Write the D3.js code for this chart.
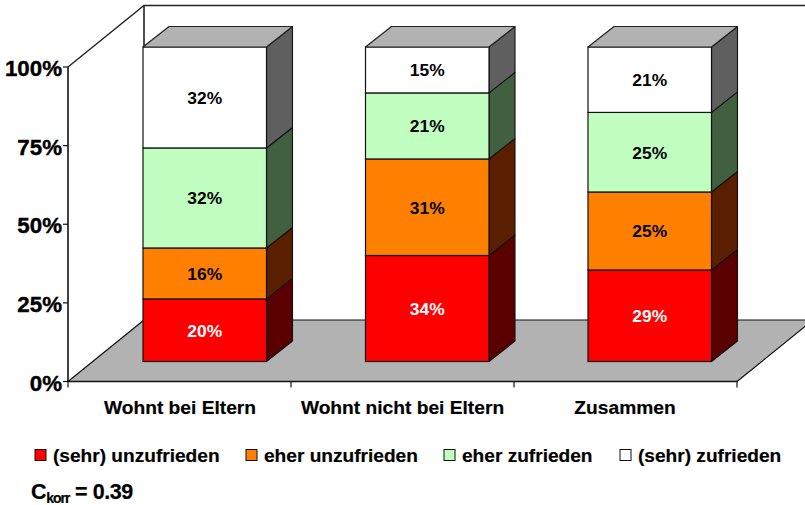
<!DOCTYPE html>
<html><head><meta charset="utf-8">
<script src="https://cdn.jsdelivr.net/npm/d3@7"></script>
<style>html,body{margin:0;background:#fff}svg{display:block}text{font-family:"Liberation Sans",Arial,sans-serif;font-weight:bold;fill:#000}</style>
</head><body><svg id="c" width="805" height="505"></svg>
<script>
const categories=["Wohnt bei Eltern","Wohnt nicht bei Eltern","Zusammen"];
const seriesNames=["(sehr) unzufrieden","eher unzufrieden","eher zufrieden","(sehr) zufrieden"];
const unzufrieden=[19.9,33.7,29.1];
const eherUnzufrieden=[16.2,30.7,24.8];
const eherZufrieden=[31.8,21,25.3];
const zufrieden=[32.1,14.6,20.8];
const yTicks=[0,25,50,75,100];
const seriesValues=[unzufrieden,eherUnzufrieden,eherZufrieden,zufrieden];
const frontColors=["#ff0000","#ff8000","#c0ffc0","#ffffff"];
const sideColors=["#5a0000","#5a1e00","#406040","#5f5f5f"];
const labelColors=["#fff","#000","#000","#000"];
const svg=d3.select("#c");
const y=d3.scaleLinear().domain([0,100]).range([381.5,67]);
const x=d3.scaleBand().domain(categories).range([68,737]);
const wall={dx:76,dy:-61.5}, barD={dx:26,dy:-20.5}, barFront={dx:75,dy:-20}, barW=123.5;
const poly=(pts,fill,stroke,sw)=>svg.append("path").attr("d",d3.line()(pts)+"Z").attr("fill",fill).attr("stroke",stroke||"#000").attr("stroke-width",sw||1.2).attr("stroke-linejoin","round");
const lineP=(pts,sw,c)=>svg.append("path").attr("d",d3.line()(pts)).attr("fill","none").attr("stroke",c||"#222").attr("stroke-width",sw||1.3);
const [L,R]=x.range(), B=y(0), T=y(100);
// floor and walls
poly([[L,B],[R,B],[R+wall.dx,B+wall.dy],[L+wall.dx,B+wall.dy]],"#b2b2b2","#111",1.2);
lineP([[L,T],[L+wall.dx,T+wall.dy],[805,T+wall.dy]],1.4);
lineP([[L+wall.dx,T+wall.dy],[L+wall.dx,B+wall.dy]],1.6);
// bars
categories.forEach((c,i)=>{
  const x0=x(c)+barFront.dx+i*-0.5;
  let acc=0;
  seriesValues.forEach((s,k)=>{
    const v=s[i], y1=y(acc)+barFront.dy, y2=y(acc+v)+barFront.dy;
    poly([[x0+barW,y1],[x0+barW+barD.dx,y1+barD.dy],[x0+barW+barD.dx,y2+barD.dy],[x0+barW,y2]],sideColors[k],"#111",1.1);
    svg.append("rect").attr("x",x0).attr("y",y2).attr("width",barW).attr("height",y1-y2).attr("fill",frontColors[k]).attr("stroke","#111").attr("stroke-width",1.2);
    acc+=v;
  });
  const top=y(acc)+barFront.dy;
  poly([[x0,top],[x0+barW,top],[x0+barW+barD.dx,top+barD.dy],[x0+barD.dx,top+barD.dy]],"#b2b2b2","#222",1.2);
  acc=0;
  seriesValues.forEach((s,k)=>{
    const v=s[i];
    svg.append("text").attr("x",x0+barW/2).attr("y",(y(acc)+y(acc+v))/2+barFront.dy+6.5).attr("text-anchor","middle").attr("font-size",17.4).style("fill",labelColors[k]).text(Math.round(v)+"%");
    acc+=v;
  });
});
// axes
lineP([[L,T],[L,B]],1.6,"#111");
lineP([[L,B],[R,B]],1.6,"#111");
yTicks.forEach(t=>{
  lineP([[L-5,y(t)],[L,y(t)]],1.2,"#111");
  svg.append("text").attr("x",62).attr("y",y(t)+9).attr("text-anchor","end").attr("font-size",22.3).attr("stroke","#000").attr("stroke-width",0.4).text(t+"%");
});
[...categories.map(c=>x(c)),R].forEach(p=>lineP([[p,B],[p,B+6]],1.2,"#111"));
const catX=[180,402.5,625];
categories.forEach((c,i)=>svg.append("text").attr("x",catX[i]).attr("y",414).attr("text-anchor","middle").attr("font-size",19.2).attr("stroke","#000").attr("stroke-width",0.2).text(c));
// legend
const legX=[35,246,444,620];
seriesNames.forEach((n,k)=>{
  svg.append("rect").attr("x",legX[k]).attr("y",449.5).attr("width",11).attr("height",11).attr("fill",frontColors[k]).attr("stroke","#111").attr("stroke-width",1);
  svg.append("text").attr("x",legX[k]+18).attr("y",462).attr("font-size",19.1).attr("stroke","#000").attr("stroke-width",0.2).text(n);
});
const ck=svg.append("text").attr("x",31).attr("y",499).attr("font-size",21.5).attr("letter-spacing",-0.4).attr("stroke","#000").attr("stroke-width",0.2);
ck.append("tspan").text("C");
ck.append("tspan").attr("font-size",14).attr("dy",4).attr("letter-spacing",-1).text("korr");
ck.append("tspan").attr("dy",-4).text(" = 0.39");
</script></body></html>
